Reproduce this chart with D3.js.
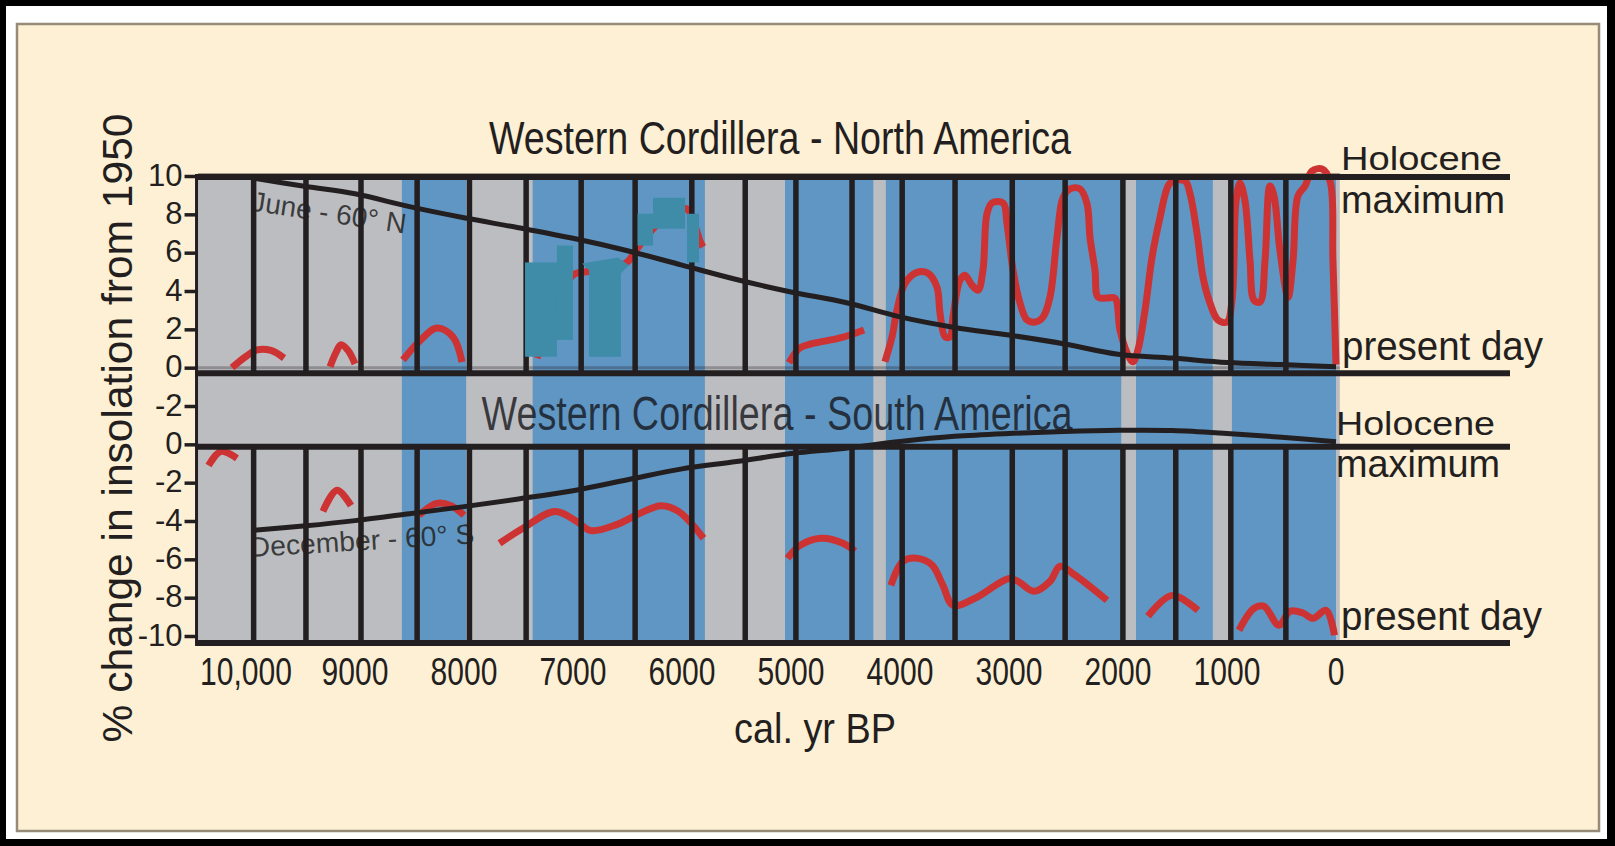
<!DOCTYPE html>
<html>
<head>
<meta charset="utf-8">
<script src="https://cdn.jsdelivr.net/npm/d3@7"></script>
<style>
  body { margin: 0; background: #000; }
  svg { display: block; }
  text { font-family: "Liberation Sans", Arial, Helvetica, sans-serif; fill: #231f20; }
</style>
</head>
<body>
<svg id="chart" width="1615" height="846"></svg>
<script>
//

// x axis (cal. yr BP)
const xTickYears = [10000, 9000, 8000, 7000, 6000, 5000, 4000, 3000, 2000, 1000, 0]
const xTickLabels = ['10,000', '9000', '8000', '7000', '6000', '5000', '4000', '3000', '2000', '1000', '0']

// stacked y axis: north panel on top, south panel shifted down by 4 units
const yTickValues = [10, 8, 6, 4, 2, 0, -2, -4, -6, -8, -10, -12, -14]
const yTickLabels = ['10', '8', '6', '4', '2', '0', '-2', '0', '-2', '-4', '-6', '-8', '-10']

// blue (wet) periods, grey elsewhere
const blueBands = [[8570, 7980], [7370, 5790], [5055, 4245], [4130, 1970], [1835, 1130], [955, 0]]

// black section dividers
const dividerYears = [9930, 9450, 8945, 8430, 7950, 7430, 6925, 6430, 5910, 5420,
  4955, 4440, 3980, 3495, 2970, 2485, 1955, 1470, 965, 460]

// insolation, June 60N
const juneYears = [9950, 9450, 9000, 8500, 8000, 7500, 7000, 6500, 6000, 5500, 5000,
  4500, 4000, 3500, 3000, 2500, 2000, 1500, 1000, 500, 0]
const juneValues = [9.9, 9.45, 9.07, 8.4, 7.82, 7.3, 6.75, 6.1, 5.35, 4.6, 3.95,
  3.4, 2.65, 2.1, 1.7, 1.25, 0.7, 0.5, 0.27, 0.16, 0.05]

// insolation, December 60S
const decYears = juneYears
const decValues = [-4.5, -4.25, -3.98, -3.62, -3.25, -2.85, -2.42, -1.85, -1.28, -0.9, -0.48,
  -0.2, 0.15, 0.42, 0.57, 0.67, 0.73, 0.72, 0.57, 0.37, 0.14]

// red proxy records, North America [yr BP, value]
const northRed1 = [[10128, 0.0], [10009, 0.55], [9899, 0.93], [9771, 0.9], [9651, 0.5]]
const northRed2 = [[9229, 0.05], [9174, 0.8], [9128, 1.2], [9064, 0.9], [9000, 0.2]]
const northRed3 = [[8560, 0.4], [8422, 1.3], [8248, 2.07], [8101, 1.6], [8018, 0.3]]
const northRed4 = [[7330, 0.5], [7211, 2.5], [7073, 4.3], [6982, 4.9], [6881, 5.0], [6706, 5.1],
  [6505, 5.5], [6413, 6.2], [6202, 7.6], [5963, 8.3], [5881, 7.4], [5835, 6.6], [5807, 6.3]]
const northRed5 = [[5018, 0.26], [4917, 1.04], [4807, 1.25], [4550, 1.55], [4330, 1.97]]
const northRed6 = [[4138, 0.31], [4073, 1.61], [4028, 3.0], [3954, 4.4], [3844, 4.97], [3743, 4.92],
  [3661, 4.2], [3633, 2.85], [3587, 1.61], [3541, 1.61], [3514, 2.64], [3450, 4.56], [3404, 4.82],
  [3339, 4.3], [3284, 4.04], [3239, 5.08], [3202, 8.03], [3156, 8.6], [3055, 8.6], [3018, 7.5],
  [2963, 5.08], [2899, 3.37], [2835, 2.49], [2761, 2.38], [2688, 2.64], [2624, 3.68], [2560, 6.79],
  [2505, 8.86], [2440, 9.33], [2349, 9.33], [2284, 8.55], [2257, 6.79], [2211, 5.08], [2183, 3.68],
  [2101, 3.63], [2028, 3.63], [1982, 1.97], [1917, 0.78], [1862, 0.31], [1817, 0.93], [1752, 3.0],
  [1688, 5.75], [1615, 7.82], [1541, 9.48], [1495, 9.74], [1385, 9.74], [1339, 9.07], [1275, 7.0],
  [1220, 4.72], [1156, 3.37], [1083, 2.49], [1000, 2.38], [954, 3.52], [917, 8.7], [881, 9.64],
  [835, 8.7], [789, 5.6], [752, 3.52], [697, 3.42], [651, 5.6], [606, 9.48], [569, 8.96],
  [514, 6.11], [440, 3.68], [394, 5.6], [349, 8.96], [284, 9.48], [220, 10.26], [128, 10.36],
  [55, 9.74], [28, 5.6], [0, 0.16]]

// red proxy records, South America [yr BP, value]
const southRed1 = [[10344, -1.1], [10229, -0.37], [10083, -0.73]]
const southRed2 = [[9294, -3.5], [9165, -2.4], [9037, -3.2]]
const southRed3 = [[8413, -3.7], [8250, -3.08], [8119, -3.2], [8000, -3.7]]
const southRed4 = [[7674, -5.16], [7459, -4.38], [7165, -3.5], [6972, -4.0], [6835, -4.5], [6606, -4.2],
  [6385, -3.6], [6193, -3.2], [6032, -3.5], [5803, -4.9]]
const southRed5 = [[5032, -5.95], [4917, -5.27], [4725, -4.9], [4523, -5.16], [4413, -5.58]]
const southRed6 = [[4083, -7.36], [3972, -6.1], [3835, -5.95], [3706, -6.3], [3606, -7.36], [3514, -8.4],
  [3312, -8.03], [3000, -7.0], [2917, -7.15], [2771, -7.67], [2624, -7.15], [2532, -6.36],
  [2394, -6.83], [2101, -8.14]]
const southRed7 = [[1725, -8.97], [1505, -7.88], [1266, -8.66]]
const southRed8 = [[890, -9.7], [752, -8.55], [661, -8.45], [523, -9.44], [422, -8.71], [303, -8.8],
  [211, -9.08], [92, -8.66], [14, -9.96]]

// teal patches over the north record [yr0, yr1, v0, v1]
const tealRects = [[7440, 7147, 0.57, 5.49], [7147, 7000, 1.45, 6.37], [6408, 6266, 6.37, 8.03],
  [6266, 5972, 7.25, 8.86], [5954, 5844, 5.49, 8.03]]
const tealShape = [[6917, 5.44], [6587, 5.75], [6486, 5.34], [6560, 4.92], [6560, 0.57], [6853, 0.57], [6853, 5.08]]

//

const W = 1615
const H = 846
const svg = d3.select('#chart')

const x = d3.scaleLinear().domain([10000, 0]).range([246, 1336])
const y = d3.scaleLinear().domain([-14, 10]).range([636, 176])
const yN = v => y(v)
const yS = v => y(v - 4)

const plotLeft = x(10440)
const plotRight = x(-35)
const lineEnd = 1510
const frame = {top: y(10) + 1, nBottom: y(0) + 5.5, sTop: y(-4) + 2.5, bottom: y(-14) + 7}

const ink = '#231f20'
const red = '#cd3333'

// page
svg.append('rect').attr('width', W).attr('height', H).attr('fill', '#000')
svg.append('rect').attr('x', 6).attr('y', 6).attr('width', W - 14).attr('height', H - 13).attr('fill', '#fff')
svg.append('rect')
  .attr('x', 17).attr('y', 24).attr('width', 1582).attr('height', 807)
  .attr('fill', '#fef0d4').attr('stroke', '#958b77').attr('stroke-width', 2.5)

// north title
svg.append('text')
  .attr('x', 780).attr('y', 154)
  .attr('text-anchor', 'middle')
  .attr('font-size', 47)
  .attr('textLength', 582).attr('lengthAdjust', 'spacingAndGlyphs')
  .text('Western Cordillera - North America')

// plot backgrounds
const plot = svg.append('g')
plot.append('rect')
  .attr('x', plotLeft).attr('y', frame.top)
  .attr('width', plotRight - plotLeft).attr('height', frame.bottom - frame.top)
  .attr('fill', '#bcbdc1')

plot.selectAll('rect.band')
  .data(blueBands)
  .enter().append('rect')
  .attr('class', 'band')
  .attr('x', d => x(d[0]))
  .attr('y', frame.top)
  .attr('width', d => x(d[1]) - x(d[0]))
  .attr('height', frame.bottom - frame.top)
  .attr('fill', '#5f96c3')

// faint zero / top lines
plot.append('line')
  .attr('x1', plotLeft).attr('x2', plotRight)
  .attr('y1', yN(0)).attr('y2', yN(0))
  .attr('stroke', 'rgba(35,31,32,0.3)').attr('stroke-width', 3)
plot.append('line')
  .attr('x1', plotLeft).attr('x2', plotRight)
  .attr('y1', frame.top - 3).attr('y2', frame.top - 3)
  .attr('stroke', '#a49c88').attr('stroke-width', 2)

// south title sits inside the middle strip
plot.append('text')
  .attr('x', 777).attr('y', 430)
  .attr('text-anchor', 'middle')
  .attr('font-size', 48)
  .attr('textLength', 591).attr('lengthAdjust', 'spacingAndGlyphs')
  .style('fill', 'rgba(20,20,25,0.78)')
  .text('Western Cordillera - South America')

// curve labels
plot.append('text')
  .attr('transform', `translate(${x(9960)},${yN(8.2)}) rotate(8.5)`)
  .attr('font-size', 28)
  .attr('textLength', 156).attr('lengthAdjust', 'spacingAndGlyphs')
  .style('fill', 'rgba(35,35,35,0.85)')
  .text('June - 60° N')

plot.append('text')
  .attr('transform', `translate(${x(9960)},${yS(-5.88)}) rotate(-3.5)`)
  .attr('font-size', 28)
  .attr('textLength', 225).attr('lengthAdjust', 'spacingAndGlyphs')
  .style('fill', 'rgba(35,35,35,0.85)')
  .text('December - 60° S')

// red proxy curves
const lineN = d3.line().x(d => x(d[0])).y(d => yN(d[1])).curve(d3.curveCatmullRom.alpha(0.5))
const lineS = d3.line().x(d => x(d[0])).y(d => yS(d[1])).curve(d3.curveCatmullRom.alpha(0.5))

plot.selectAll('path.redN')
  .data([northRed1, northRed2, northRed3, northRed4, northRed5, northRed6])
  .enter().append('path')
  .attr('class', 'redN')
  .attr('d', lineN)
  .attr('fill', 'none').attr('stroke', red).attr('stroke-width', 7)
  .attr('stroke-linejoin', 'round')

plot.selectAll('path.redS')
  .data([southRed1, southRed2, southRed3, southRed4, southRed5, southRed6, southRed7, southRed8])
  .enter().append('path')
  .attr('class', 'redS')
  .attr('d', lineS)
  .attr('fill', 'none').attr('stroke', red).attr('stroke-width', 7)
  .attr('stroke-linejoin', 'round')

// insolation curves
const june = juneYears.map((yr, i) => [yr, juneValues[i]])
const dec = decYears.map((yr, i) => [yr, decValues[i]])

plot.append('path')
  .attr('d', lineN(june))
  .attr('fill', 'none').attr('stroke', ink).attr('stroke-width', 5)
plot.append('path')
  .attr('d', lineS(dec))
  .attr('fill', 'none').attr('stroke', ink).attr('stroke-width', 5)

// section dividers, north and south panels
plot.selectAll('line.divN')
  .data(dividerYears)
  .enter().append('line')
  .attr('class', 'divN')
  .attr('x1', d => x(d)).attr('x2', d => x(d))
  .attr('y1', frame.top).attr('y2', frame.nBottom)
  .attr('stroke', ink).attr('stroke-width', 5.5)

plot.selectAll('line.divS')
  .data(dividerYears)
  .enter().append('line')
  .attr('class', 'divS')
  .attr('x1', d => x(d)).attr('x2', d => x(d))
  .attr('y1', frame.sTop).attr('y2', frame.bottom)
  .attr('stroke', ink).attr('stroke-width', 5.5)

// teal patches
plot.selectAll('rect.teal')
  .data(tealRects)
  .enter().append('rect')
  .attr('class', 'teal')
  .attr('x', d => x(d[0]))
  .attr('y', d => yN(d[3]))
  .attr('width', d => x(d[1]) - x(d[0]))
  .attr('height', d => yN(d[2]) - yN(d[3]))
  .attr('fill', '#3f8ca9')
plot.append('path')
  .attr('d', d3.line().x(d => x(d[0])).y(d => yN(d[1]))(tealShape) + 'Z')
  .attr('fill', '#3f8ca9')

// frame lines, running out to the right-hand labels
plot.selectAll('line.frame')
  .data([frame.top, frame.nBottom, frame.sTop, frame.bottom])
  .enter().append('line')
  .attr('class', 'frame')
  .attr('x1', plotLeft - 3).attr('x2', lineEnd)
  .attr('y1', d => d).attr('y2', d => d)
  .attr('stroke', ink).attr('stroke-width', 6)

// y axis
const yAxis = d3.axisLeft(y)
  .tickValues(yTickValues)
  .tickFormat((d, i) => yTickLabels[i])
  .tickSize(12)
  .tickPadding(2)

const yAxisG = svg.append('g')
  .attr('transform', `translate(${plotLeft - 1.5},0)`)
  .call(yAxis)
yAxisG.select('.domain').remove()
yAxisG.selectAll('.tick line').attr('stroke', ink).attr('stroke-width', 3.5)
yAxisG.selectAll('.tick text')
  .style('font-family', '"Liberation Sans", Arial, sans-serif')
  .style('font-size', '31px')
  .style('fill', ink)
  .attr('dy', '0.3em')
yAxisG.append('line')
  .attr('x1', 0).attr('x2', 0)
  .attr('y1', frame.top).attr('y2', frame.bottom)
  .attr('stroke', ink).attr('stroke-width', 3)

// x tick labels (condensed)
svg.selectAll('g.xlab')
  .data(xTickYears)
  .enter().append('g')
  .attr('class', 'xlab')
  .attr('transform', d => `translate(${x(d)},685) scale(0.77,1)`)
  .append('text')
  .attr('text-anchor', 'middle')
  .attr('font-size', 39)
  .text((d, i) => xTickLabels[i])

// axis titles
svg.append('text')
  .attr('x', 815).attr('y', 743)
  .attr('text-anchor', 'middle')
  .attr('font-size', 42)
  .attr('textLength', 162).attr('lengthAdjust', 'spacingAndGlyphs')
  .text('cal. yr BP')

svg.append('text')
  .attr('transform', 'translate(132,428) rotate(-90)')
  .attr('text-anchor', 'middle')
  .attr('font-size', 42)
  .attr('textLength', 629).attr('lengthAdjust', 'spacingAndGlyphs')
  .text('% change in insolation from 1950')

// right-hand labels
const sideLabels = [
  {text: 'Holocene', x: 1341, y: 170, size: 34, len: 161},
  {text: 'maximum', x: 1341, y: 213, size: 39, len: 164},
  {text: 'present day', x: 1342, y: 360, size: 40, len: 201},
  {text: 'Holocene', x: 1336, y: 435, size: 34, len: 159},
  {text: 'maximum', x: 1336, y: 477, size: 39, len: 164},
  {text: 'present day', x: 1341, y: 630, size: 40, len: 201}
]
svg.selectAll('text.side')
  .data(sideLabels)
  .enter().append('text')
  .attr('class', 'side')
  .attr('x', d => d.x).attr('y', d => d.y)
  .attr('font-size', d => d.size)
  .attr('textLength', d => d.len).attr('lengthAdjust', 'spacingAndGlyphs')
  .text(d => d.text)
</script>
</body>
</html>
